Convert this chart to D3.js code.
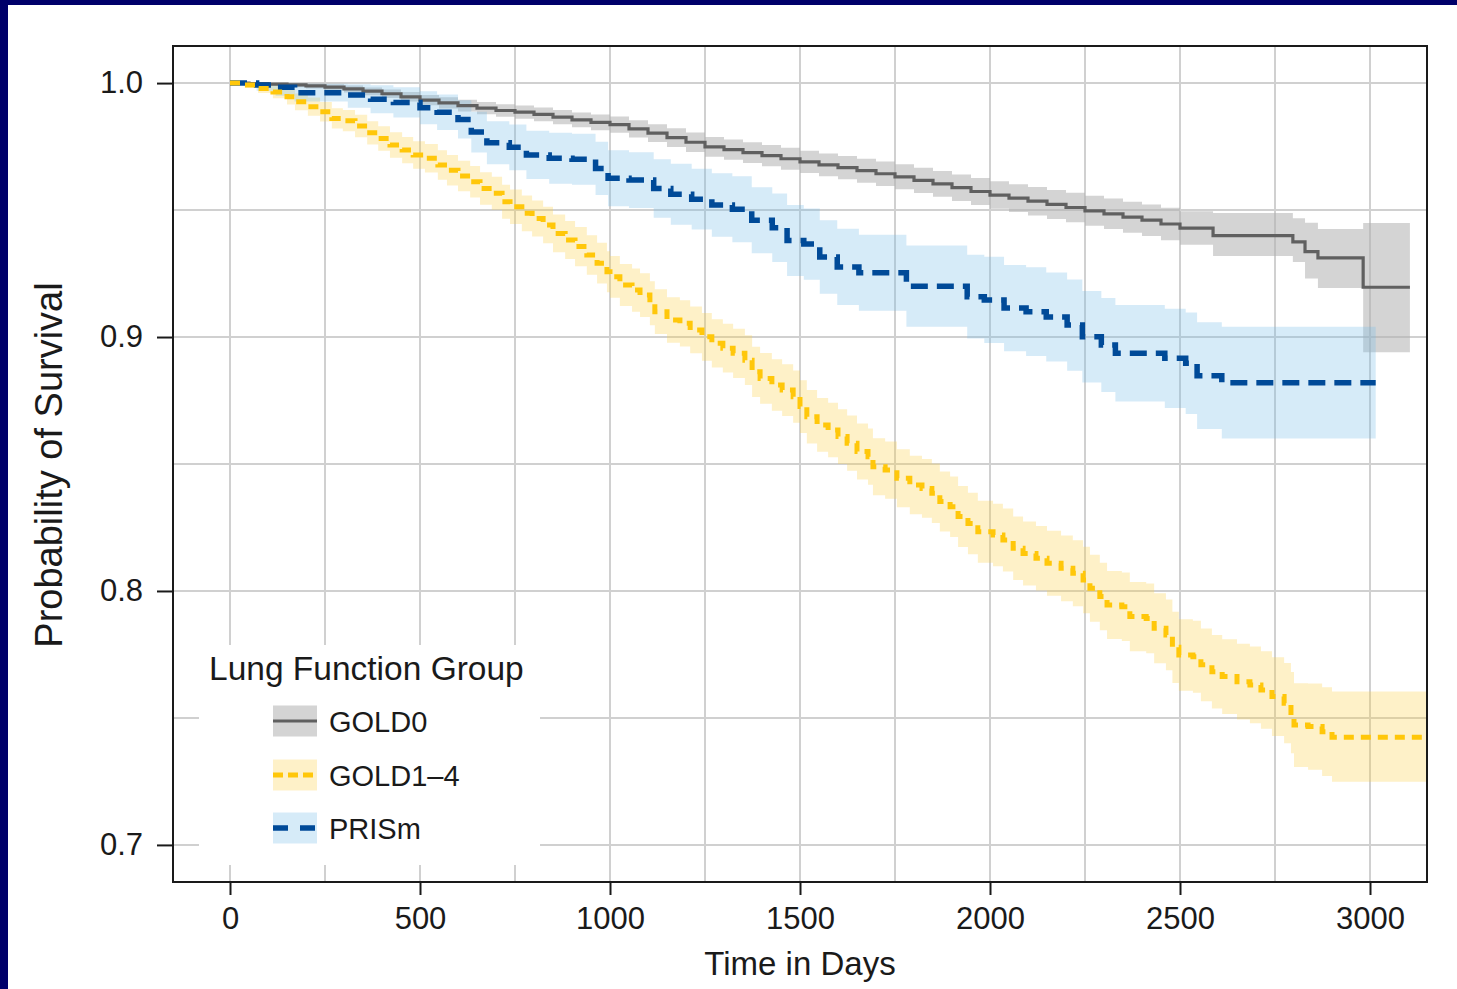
<!DOCTYPE html>
<html>
<head>
<meta charset="utf-8">
<script src="https://cdn.jsdelivr.net/npm/d3@7"></script>
<style>
  html, body { margin: 0; padding: 0; background: #ffffff; }
  svg { display: block; }
  text { font-family: "Liberation Sans", Arial, Helvetica, sans-serif; fill: #1a1a1a; }
</style>
</head>
<body>
<svg id="chart" width="1457" height="989"></svg>
<script>
// ---- Kaplan–Meier estimates with 95% confidence limits, by lung function group ----
const groupNames = ["GOLD0", "GOLD1–4", "PRISm"];

// GOLD0
const gold0Days = [0, 50, 100, 150, 200, 250, 300, 350, 400, 450, 500, 550, 600, 650, 700, 750, 800, 850, 900, 950,
  1000, 1050, 1100, 1150, 1200, 1250, 1300, 1350, 1400, 1450, 1500, 1550, 1600, 1650, 1700, 1750, 1800, 1850, 1900, 1950,
  2000, 2050, 2100, 2150, 2200, 2250, 2300, 2350, 2400, 2450, 2500, 2587, 2797, 2829, 2863, 2982, 3105];
const gold0Surv = [1.0, 0.9998, 0.9996, 0.9993, 0.9989, 0.9984, 0.9977, 0.9968, 0.9958, 0.9946, 0.9933, 0.9922, 0.9911, 0.9901, 0.9892, 0.9886, 0.9877, 0.9866, 0.9855, 0.9845,
  0.9836, 0.9820, 0.9803, 0.9785, 0.9767, 0.9749, 0.9738, 0.9726, 0.9714, 0.9702, 0.9690, 0.9678, 0.9667, 0.9655, 0.9643, 0.9631, 0.9617, 0.9603, 0.9588, 0.9573,
  0.9559, 0.9547, 0.9535, 0.9522, 0.9510, 0.9497, 0.9485, 0.9472, 0.9460, 0.9445, 0.9429, 0.9399, 0.9375, 0.9336, 0.9312, 0.9196, 0.9196];
const gold0Lower = [1.0, 0.9994, 0.9989, 0.9984, 0.9979, 0.9972, 0.9963, 0.9952, 0.9941, 0.9927, 0.9913, 0.9900, 0.9888, 0.9877, 0.9867, 0.9860, 0.9850, 0.9838, 0.9826, 0.9814,
  0.9804, 0.9786, 0.9768, 0.9748, 0.9729, 0.9710, 0.9698, 0.9685, 0.9672, 0.9659, 0.9646, 0.9633, 0.9621, 0.9608, 0.9595, 0.9582, 0.9567, 0.9552, 0.9536, 0.9520,
  0.9505, 0.9492, 0.9479, 0.9465, 0.9452, 0.9438, 0.9425, 0.9411, 0.9398, 0.9381, 0.9363, 0.9319, 0.9295, 0.9230, 0.9193, 0.8940, 0.8940];
const gold0Upper = [1.0, 1.0, 1.0, 1.0, 0.9998, 0.9995, 0.9990, 0.9983, 0.9975, 0.9965, 0.9953, 0.9944, 0.9934, 0.9925, 0.9917, 0.9912, 0.9904, 0.9894, 0.9884, 0.9876,
  0.9868, 0.9854, 0.9838, 0.9822, 0.9805, 0.9788, 0.9778, 0.9767, 0.9756, 0.9745, 0.9734, 0.9723, 0.9713, 0.9702, 0.9691, 0.9680, 0.9667, 0.9654, 0.9640, 0.9626,
  0.9613, 0.9602, 0.9591, 0.9579, 0.9568, 0.9556, 0.9545, 0.9533, 0.9522, 0.9509, 0.9495, 0.9488, 0.9468, 0.9450, 0.9425, 0.9449, 0.9449];

// GOLD1–4
const gold14Days = [0, 39, 74, 113, 150, 171, 205, 237, 268, 297, 329, 361, 390, 421, 453, 482, 513, 547, 571, 600,
  632, 658, 689, 716, 737, 768, 795, 824, 850, 882, 908, 939, 966, 992, 1000, 1026, 1058, 1079, 1105, 1118,
  1150, 1184, 1211, 1242, 1268, 1297, 1324, 1355, 1374, 1395, 1426, 1453, 1482, 1500, 1518, 1545, 1574, 1600, 1624, 1650,
  1679, 1692, 1724, 1755, 1789, 1821, 1847, 1868, 1895, 1916, 1942, 1968, 2008, 2034, 2061, 2087, 2121, 2150, 2187, 2218,
  2245, 2263, 2289, 2308, 2347, 2368, 2411, 2432, 2463, 2480, 2497, 2534, 2555, 2584, 2611, 2650, 2684, 2713, 2742, 2774,
  2792, 2800, 2837, 2874, 2900, 3200];
const gold14Surv = [1.0, 0.9992, 0.9979, 0.9965, 0.9946, 0.9926, 0.9907, 0.9887, 0.9861, 0.9852, 0.9831, 0.9804, 0.9782, 0.9756, 0.9736, 0.9717, 0.9704, 0.9677, 0.9657, 0.9634,
  0.9611, 0.9585, 0.9566, 0.9533, 0.9513, 0.9487, 0.9467, 0.9441, 0.9408, 0.9382, 0.9356, 0.9323, 0.9291, 0.9257, 0.9237, 0.9205, 0.9185, 0.9165, 0.9133, 0.9100,
  0.9067, 0.9054, 0.9028, 0.9001, 0.8975, 0.8956, 0.8936, 0.8909, 0.8863, 0.8837, 0.8811, 0.8791, 0.8765, 0.8726, 0.8686, 0.8654, 0.8634, 0.8608, 0.8582, 0.8549,
  0.8529, 0.8489, 0.8476, 0.8444, 0.8417, 0.8404, 0.8385, 0.8352, 0.8332, 0.8293, 0.8266, 0.8233, 0.8220, 0.8201, 0.8168, 0.8148, 0.8129, 0.8109, 0.8089, 0.8070,
  0.8043, 0.8011, 0.7978, 0.7945, 0.7938, 0.7899, 0.7892, 0.7853, 0.7827, 0.7778, 0.7748, 0.7741, 0.7709, 0.7682, 0.7663, 0.7643, 0.7630, 0.7610, 0.7584, 0.7558,
  0.7521, 0.7472, 0.7466, 0.7446, 0.7424, 0.7424];
const gold14Lower = [1.0, 0.9982, 0.9961, 0.9940, 0.9916, 0.9893, 0.9871, 0.9849, 0.9821, 0.9810, 0.9787, 0.9758, 0.9734, 0.9706, 0.9684, 0.9663, 0.9648, 0.9619, 0.9597, 0.9574,
  0.9549, 0.9521, 0.9501, 0.9466, 0.9445, 0.9417, 0.9396, 0.9369, 0.9334, 0.9307, 0.9279, 0.9245, 0.9211, 0.9176, 0.9155, 0.9122, 0.9100, 0.9079, 0.9046, 0.9012,
  0.8977, 0.8963, 0.8936, 0.8907, 0.8880, 0.8860, 0.8839, 0.8811, 0.8764, 0.8737, 0.8710, 0.8689, 0.8662, 0.8622, 0.8581, 0.8548, 0.8527, 0.8500, 0.8473, 0.8439,
  0.8418, 0.8377, 0.8363, 0.8330, 0.8302, 0.8288, 0.8268, 0.8234, 0.8213, 0.8173, 0.8145, 0.8111, 0.8097, 0.8077, 0.8043, 0.8022, 0.8002, 0.7981, 0.7960, 0.7940,
  0.7912, 0.7879, 0.7845, 0.7811, 0.7803, 0.7763, 0.7755, 0.7715, 0.7688, 0.7638, 0.7607, 0.7599, 0.7566, 0.7537, 0.7516, 0.7494, 0.7479, 0.7457, 0.7429, 0.7400,
  0.7361, 0.7307, 0.7296, 0.7271, 0.7249, 0.7249];
const gold14Upper = [1.0, 1.0, 0.9997, 0.9990, 0.9976, 0.9959, 0.9943, 0.9925, 0.9901, 0.9894, 0.9875, 0.9850, 0.9830, 0.9806, 0.9788, 0.9771, 0.9760, 0.9735, 0.9717, 0.9694,
  0.9673, 0.9649, 0.9631, 0.9600, 0.9581, 0.9557, 0.9538, 0.9513, 0.9482, 0.9457, 0.9433, 0.9401, 0.9371, 0.9338, 0.9319, 0.9288, 0.9270, 0.9251, 0.9220, 0.9188,
  0.9157, 0.9145, 0.9120, 0.9095, 0.9070, 0.9052, 0.9033, 0.9007, 0.8962, 0.8937, 0.8912, 0.8893, 0.8868, 0.8830, 0.8791, 0.8760, 0.8741, 0.8716, 0.8691, 0.8659,
  0.8640, 0.8601, 0.8589, 0.8558, 0.8532, 0.8520, 0.8502, 0.8470, 0.8451, 0.8413, 0.8387, 0.8355, 0.8343, 0.8325, 0.8293, 0.8274, 0.8256, 0.8237, 0.8218, 0.8200,
  0.8174, 0.8143, 0.8111, 0.8079, 0.8073, 0.8035, 0.8029, 0.7991, 0.7966, 0.7918, 0.7889, 0.7883, 0.7852, 0.7827, 0.7810, 0.7792, 0.7781, 0.7763, 0.7739, 0.7716,
  0.7681, 0.7637, 0.7636, 0.7621, 0.7604, 0.7604];

// PRISm
const prismDays = [0, 70, 120, 170, 310, 370, 430, 500, 545, 600, 635, 676, 735, 780, 840, 900, 962, 995, 1050, 1115,
  1160, 1215, 1268, 1322, 1373, 1427, 1466, 1510, 1552, 1598, 1655, 1780, 1940, 1985, 2037, 2095, 2148, 2203, 2243, 2293,
  2330, 2460, 2515, 2545, 2610, 3015];
const prismSurv = [1.0, 0.9992, 0.9984, 0.9962, 0.9953, 0.9936, 0.9924, 0.9903, 0.9885, 0.9857, 0.9807, 0.9765, 0.9747, 0.9717, 0.9704, 0.9700, 0.9664, 0.9625, 0.9618, 0.9585,
  0.9562, 0.9543, 0.9520, 0.9503, 0.9460, 0.9430, 0.9380, 0.9366, 0.9315, 0.9276, 0.9253, 0.9200, 0.9159, 0.9146, 0.9114, 0.9100, 0.9079, 0.9047, 0.9001, 0.8969,
  0.8936, 0.8916, 0.8897, 0.8848, 0.8820, 0.8820];
const prismLower = [1.0, 0.9970, 0.9950, 0.9927, 0.9903, 0.9881, 0.9864, 0.9838, 0.9815, 0.9782, 0.9727, 0.9680, 0.9657, 0.9622, 0.9604, 0.9600, 0.9559, 0.9515, 0.9508, 0.9470,
  0.9442, 0.9423, 0.9395, 0.9373, 0.9330, 0.9295, 0.9240, 0.9226, 0.9170, 0.9126, 0.9103, 0.9040, 0.8994, 0.8976, 0.8944, 0.8925, 0.8904, 0.8867, 0.8821, 0.8784,
  0.8746, 0.8721, 0.8697, 0.8638, 0.8600, 0.8600];
const prismUpper = [1.0, 1.0, 1.0, 0.9997, 0.9995, 0.9991, 0.9984, 0.9968, 0.9955, 0.9932, 0.9887, 0.9850, 0.9837, 0.9812, 0.9804, 0.9800, 0.9769, 0.9735, 0.9728, 0.9700,
  0.9682, 0.9663, 0.9645, 0.9633, 0.9590, 0.9565, 0.9520, 0.9506, 0.9460, 0.9426, 0.9403, 0.9360, 0.9324, 0.9316, 0.9284, 0.9275, 0.9254, 0.9227, 0.9181, 0.9154,
  0.9126, 0.9111, 0.9097, 0.9058, 0.9040, 0.9040];

// Axis ticks and grid
const xTicks = [0, 500, 1000, 1500, 2000, 2500, 3000];
const xGrid = [0, 250, 500, 750, 1000, 1250, 1500, 1750, 2000, 2250, 2500, 2750, 3000];
const yTicks = [0.7, 0.8, 0.9, 1.0];
const yGrid = [0.7, 0.75, 0.8, 0.85, 0.9, 0.95, 1.0];

// ---- layout ----
const W = 1457, H = 989;
const panel = { left: 173, top: 46, right: 1427, bottom: 882 };

const x = d3.scaleLinear().domain([-150, 3150]).range([panel.left, panel.right]);
const y = d3.scaleLinear().domain([0.6854, 1.0146]).range([panel.bottom, panel.top]);

const toRows = (days, surv, lo, hi) => days.map((d, i) => ({ t: d, v: surv[i], lo: lo[i], hi: hi[i] }));

const series = [
  { name: groupNames[0], rows: toRows(gold0Days, gold0Surv, gold0Lower, gold0Upper),
    stroke: "#606060", width: 3.2, dash: null, keyDash: null,
    bandFill: "#b0b0b0", bandOpacity: 0.55 },
  { name: groupNames[1], rows: toRows(gold14Days, gold14Surv, gold14Lower, gold14Upper),
    stroke: "#ffc70a", width: 5, dash: "10,7", keyDash: "10,5",
    bandFill: "#fbd04a", bandOpacity: 0.3 },
  { name: groupNames[2], rows: toRows(prismDays, prismSurv, prismLower, prismUpper),
    stroke: "#004a98", width: 5.5, dash: "17,9", keyDash: "15,12",
    bandFill: "#77bde9", bandOpacity: 0.3 }
];

const svg = d3.select("#chart");

// frame strips
svg.append("rect").attr("x", 0).attr("y", 0).attr("width", W).attr("height", 5).attr("fill", "#00006a");
svg.append("rect").attr("x", 0).attr("y", 0).attr("width", 8).attr("height", H).attr("fill", "#00006a");

svg.append("defs").append("clipPath").attr("id", "panelClip")
  .append("rect")
  .attr("x", panel.left).attr("y", panel.top)
  .attr("width", panel.right - panel.left).attr("height", panel.bottom - panel.top);

// grid
const grid = svg.append("g").attr("class", "grid");
grid.selectAll("line.gx").data(xGrid).join("line")
  .attr("class", "gx")
  .attr("x1", d => x(d)).attr("x2", d => x(d))
  .attr("y1", panel.top).attr("y2", panel.bottom)
  .attr("stroke", "#d0d0d0").attr("stroke-width", 2);
grid.selectAll("line.gy").data(yGrid).join("line")
  .attr("class", "gy")
  .attr("x1", panel.left).attr("x2", panel.right)
  .attr("y1", d => y(d)).attr("y2", d => y(d))
  .attr("stroke", "#d0d0d0").attr("stroke-width", 2);

const plot = svg.append("g").attr("clip-path", "url(#panelClip)");

// confidence bands
const band = d3.area()
  .x(d => x(d.t)).y0(d => y(d.lo)).y1(d => y(d.hi))
  .curve(d3.curveStepAfter);
series.forEach(s => {
  plot.append("path")
    .datum(s.rows)
    .attr("d", band)
    .attr("fill", s.bandFill)
    .attr("fill-opacity", s.bandOpacity);
});

// survival curves
const curve = d3.line().x(d => x(d.t)).y(d => y(d.v)).curve(d3.curveStepAfter);
[0, 2, 1].forEach(i => {
  const s = series[i];
  plot.append("path")
    .datum(s.rows)
    .attr("d", curve)
    .attr("fill", "none")
    .attr("stroke", s.stroke)
    .attr("stroke-width", s.width)
    .attr("stroke-dasharray", s.dash)
    .attr("stroke-linejoin", "miter");
});

// legend
const legend = svg.append("g").attr("class", "legend");
legend.append("rect")
  .attr("x", 199).attr("y", 645).attr("width", 341).attr("height", 220)
  .attr("fill", "#ffffff");
legend.append("text")
  .attr("x", 209).attr("y", 680)
  .attr("font-size", 33.5)
  .text("Lung Function Group");
const rowY = [721, 775, 828];
series.forEach((s, i) => {
  const g = legend.append("g").attr("transform", `translate(273,${rowY[i]})`);
  g.append("rect").attr("x", 0).attr("y", -15.5).attr("width", 44).attr("height", 31)
    .attr("fill", s.bandFill).attr("fill-opacity", s.bandOpacity);
  g.append("line").attr("x1", 0).attr("x2", 44).attr("y1", 0).attr("y2", 0)
    .attr("stroke", s.stroke).attr("stroke-width", s.width)
    .attr("stroke-dasharray", s.keyDash);
  g.append("text").attr("x", 56).attr("y", 10.5)
    .attr("font-size", 29)
    .text(s.name);
});

// panel border
svg.append("rect")
  .attr("x", panel.left).attr("y", panel.top)
  .attr("width", panel.right - panel.left).attr("height", panel.bottom - panel.top)
  .attr("fill", "none").attr("stroke", "#1a1a1a").attr("stroke-width", 2);

// axes
const yAxis = d3.axisLeft(y).tickValues(yTicks).tickFormat(d3.format(".1f")).tickSize(16).tickPadding(14);
const gy = svg.append("g").attr("transform", `translate(${panel.left},0)`).call(yAxis);
gy.select(".domain").remove();
gy.selectAll(".tick line").attr("stroke", "#1a1a1a").attr("stroke-width", 2);
gy.selectAll(".tick text").attr("font-size", 31).attr("fill", "#1a1a1a")
  .attr("font-family", "\"Liberation Sans\", Arial, Helvetica, sans-serif");

const xAxis = d3.axisBottom(x).tickValues(xTicks).tickFormat(d3.format("d")).tickSize(13).tickPadding(12);
const gx = svg.append("g").attr("transform", `translate(0,${panel.bottom})`).call(xAxis);
gx.select(".domain").remove();
gx.selectAll(".tick line").attr("stroke", "#1a1a1a").attr("stroke-width", 2);
gx.selectAll(".tick text").attr("font-size", 31).attr("fill", "#1a1a1a")
  .attr("font-family", "\"Liberation Sans\", Arial, Helvetica, sans-serif");

// axis titles
svg.append("text")
  .attr("x", 800).attr("y", 975)
  .attr("text-anchor", "middle")
  .attr("font-size", 33)
  .text("Time in Days");
svg.append("text")
  .attr("transform", "translate(62,465) rotate(-90)")
  .attr("text-anchor", "middle")
  .attr("font-size", 38)
  .text("Probability of Survival");
</script>
</body>
</html>
